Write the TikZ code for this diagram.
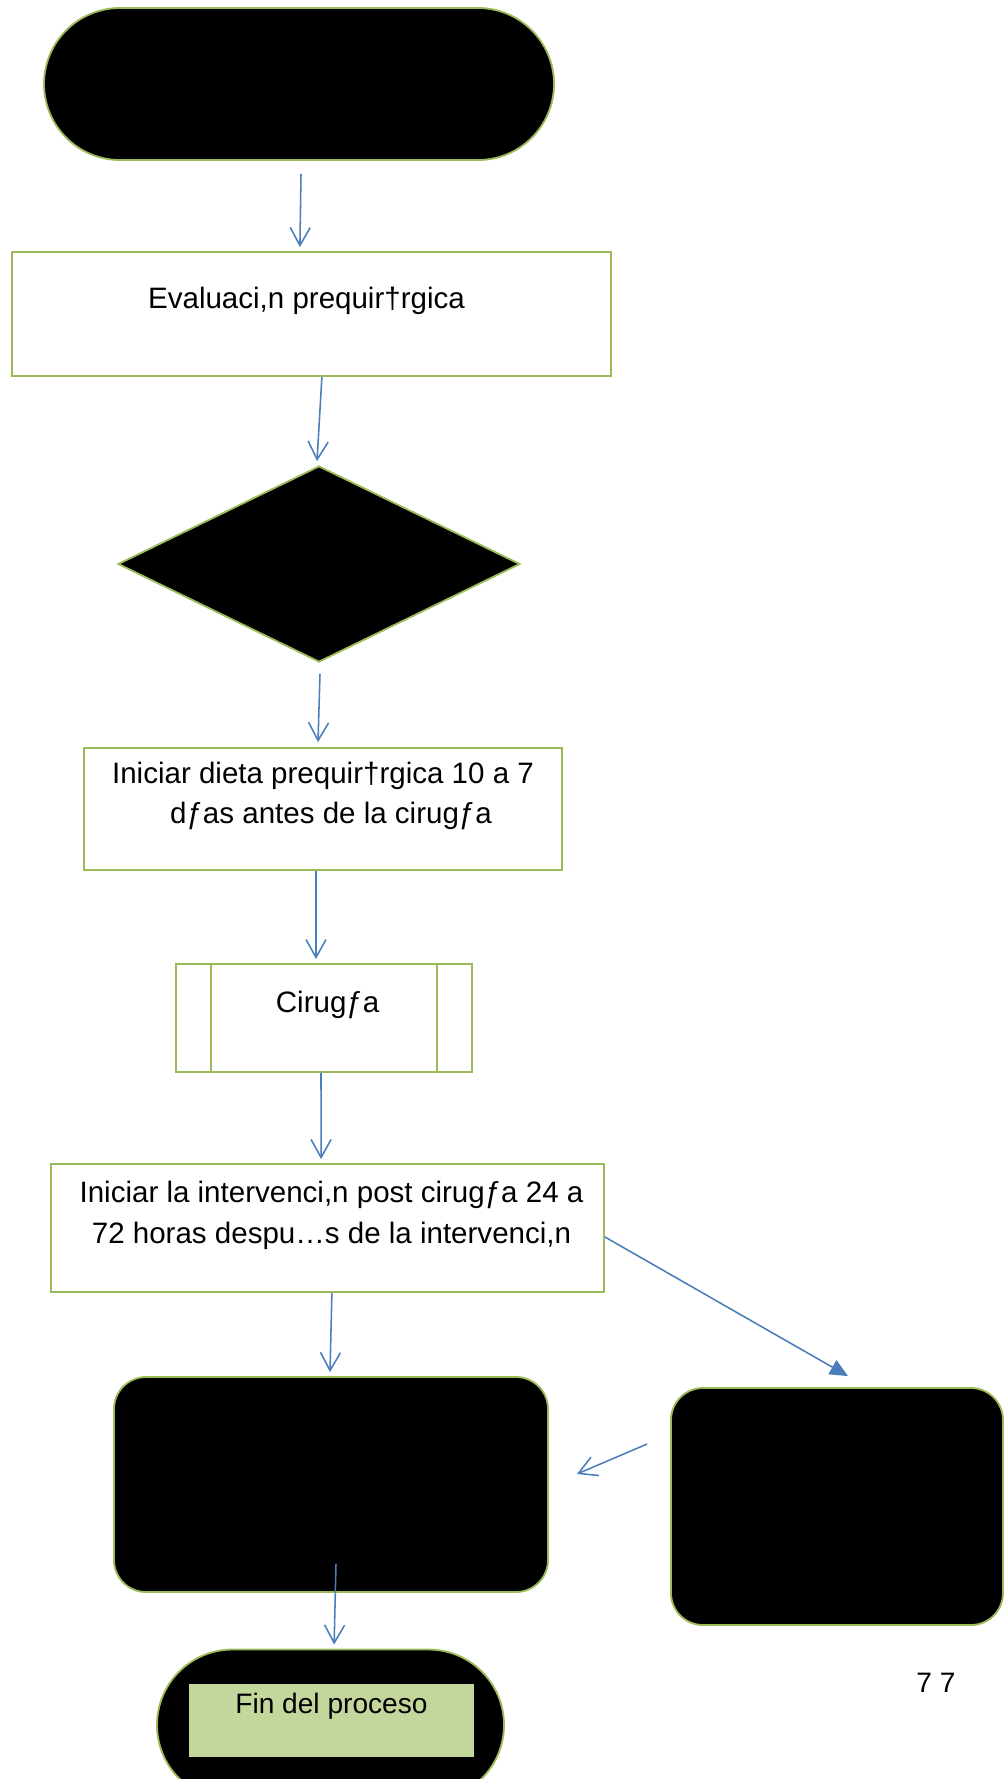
\documentclass[tikz,border=0pt]{standalone}
\usepackage{fontspec}
\setmainfont{Liberation Sans}
\usetikzlibrary{shapes.geometric,shapes.misc,arrows.meta}

\definecolor{boxgreen}{HTML}{9BBB59}
\definecolor{finfill}{HTML}{C3D69B}
\definecolor{arrowblue}{HTML}{4A7EBB}

\begin{document}
\begin{tikzpicture}[
    terminal/.style={rounded rectangle, draw=boxgreen, fill=black, line width=1.3pt, inner sep=0pt},
    process/.style={rectangle, draw=boxgreen, fill=white, line width=1.3pt, inner sep=0pt},
    decision/.style={diamond, draw=boxgreen, fill=black, line width=1.3pt, inner sep=0pt},
    blackbox/.style={rectangle, rounded corners=0.8cm, draw=boxgreen, fill=black, line width=1.3pt, inner sep=0pt},
    boxtext/.style={align=center, yshift=0.325cm, font=\fontsize{21pt}{29pt}\selectfont},
    arrow/.style={-{Straight Barb[length=0.45cm,width=0.5cm]}, draw=arrowblue, line width=1.1pt},
    solidarrow/.style={-{Triangle[length=0.45cm,width=0.4cm]}, draw=arrowblue, line width=1.1pt}
]
\useasboundingbox (0,0) rectangle (25.1,-44.475);
\clip (0,0) rectangle (25.1,-44.475);

% Inicio
\node[terminal, minimum width=12.75cm, minimum height=3.8cm] (start) at (7.475,-2.1) {};

% Evaluacion
\node[process, minimum width=14.975cm, minimum height=3.1cm,
  label={[boxtext, xshift=-0.125cm]center:{Evaluaci,n prequir†rgica}}] (eval) at (7.7875,-7.85) {};

% Decision
\node[decision, minimum width=10.05cm, minimum height=4.9cm] (dec) at (7.975,-14.1) {};

% Dieta
\node[process, minimum width=11.95cm, minimum height=3.05cm,
  label={[boxtext]center:{Iniciar dieta prequir†rgica 10 a 7\\\hspace*{0.4cm}dƒas antes de la cirugƒa}}] (diet) at (8.075,-20.225) {};

% Cirugia (proceso predefinido)
\node[process, minimum width=7.4cm, minimum height=2.7cm,
  label={[boxtext, xshift=0.09cm]center:{Cirugƒa}}] (surg) at (8.1,-25.45) {};
\draw[boxgreen, line width=1.3pt] ([xshift=0.9cm]surg.north west) -- ([xshift=0.9cm]surg.south west);
\draw[boxgreen, line width=1.3pt] ([xshift=-0.9cm]surg.north east) -- ([xshift=-0.9cm]surg.south east);

% Post cirugia
\node[process, minimum width=13.825cm, minimum height=3.2cm,
  label={[boxtext, xshift=0.1cm]center:{Iniciar la intervenci,n post cirugƒa 24 a\\72 horas despu…s de la intervenci,n}}] (post) at (8.1875,-30.7) {};

% Seguimiento y alternativa
\node[blackbox, minimum width=10.85cm, minimum height=5.375cm] (follow) at (8.275,-37.1125) {};
\node[blackbox, minimum width=8.3cm, minimum height=5.925cm] (alt) at (20.925,-37.6625) {};

% Fin
\node[terminal, minimum width=8.675cm, minimum height=3.775cm] (finish) at (8.2625,-43.125) {};
\node[rectangle, fill=finfill, minimum width=7.125cm, minimum height=1.825cm, inner sep=0pt,
  label={[boxtext, yshift=0.035cm, font=\fontsize{20pt}{24pt}\selectfont]center:{Fin del proceso}}] (fin) at (8.2875,-43.0125) {};

% Numero de pagina
\node[font=\fontsize{20pt}{24pt}\selectfont, inner sep=0pt] (pagenum) at (23.4,-42.075) {7 7};

% Edges
\draw[arrow] ([xshift=0.05cm,yshift=-0.325cm]start.south) -- ([xshift=-0.29cm,yshift=0.1cm]eval.north);
\draw[arrow] ([xshift=0.26cm]eval.south) -- ([xshift=-0.05cm,yshift=0.1cm]dec.north);
\draw[arrow] ([xshift=0.025cm,yshift=-0.275cm]dec.south) -- ([xshift=-0.125cm,yshift=0.125cm]diet.north);
\draw[arrow] ([xshift=-0.175cm]diet.south) -- ([xshift=-0.2cm,yshift=0.1cm]surg.north);
\draw[arrow] ([xshift=-0.075cm]surg.south) -- ([xshift=-0.16cm,yshift=0.1cm]post.north);
\draw[arrow] ([xshift=0.11cm]post.south) -- ([xshift=-0.025cm,yshift=0.1cm]follow.north);
\draw[solidarrow] ([yshift=-0.225cm]post.east) -- ([xshift=0.275cm,yshift=0.275cm]alt.north);
\draw[arrow] ([xshift=-0.575cm,yshift=1.5625cm]alt.west) -- ([xshift=0.7cm,yshift=0.2625cm]follow.east);
\draw[arrow] ([xshift=0.125cm,yshift=0.725cm]follow.south) -- ([xshift=0.09cm,yshift=0.1cm]finish.north);

\end{tikzpicture}
\end{document}
